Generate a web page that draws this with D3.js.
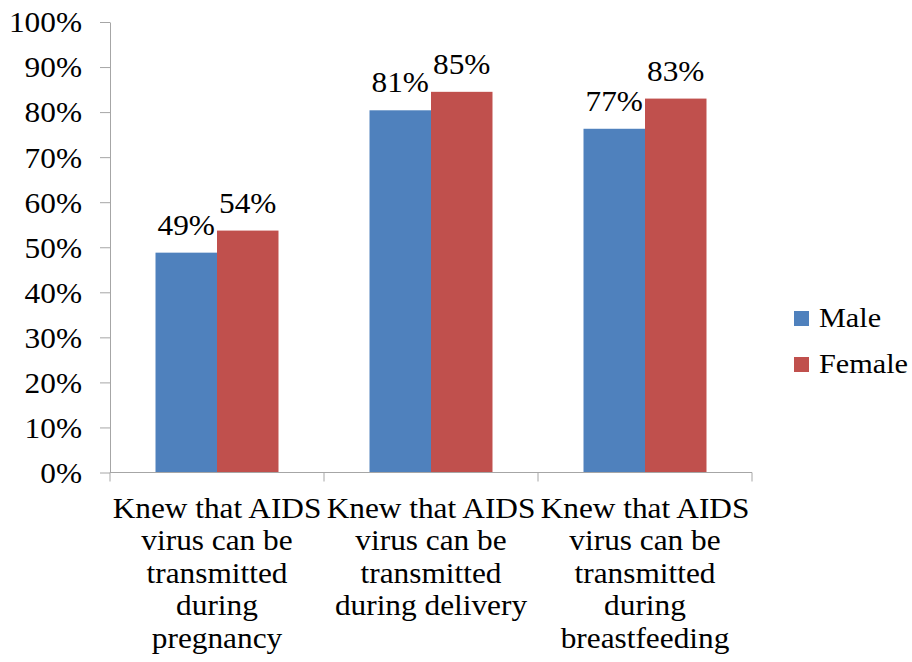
<!DOCTYPE html>
<html>
<head>
<meta charset="utf-8">
<script src="https://cdn.jsdelivr.net/npm/d3@7"></script>
<style>
  body { margin: 0; background: #fff; }
  svg text { font-family: "Liberation Serif", "Times New Roman", serif; fill: #000; }
</style>
</head>
<body>
<svg id="svg" width="912" height="662"></svg>
<script>
// chart data
const categories = [
    ["Knew that AIDS", "virus can be", "transmitted", "during", "pregnancy"],
    ["Knew that AIDS", "virus can be", "transmitted", "during delivery"],
    ["Knew that AIDS", "virus can be", "transmitted", "during", "breastfeeding"]
];
const seriesNames = ["Male", "Female"];
const maleValues = [49, 81, 77];
const femaleValues = [54, 85, 83];
const barHeights = [[48.8, 53.7], [80.4, 84.5], [76.3, 83.0]];
const yTicks = [0, 10, 20, 30, 40, 50, 60, 70, 80, 90, 100];
const colors = ["#4f81bd", "#c0504d"];

draw();

function draw(
    {
        left = 110,
        right = 752,
        top = 22,
        bottom = 472.5,
        fontSize = 29,
        stretch = 1.08,   // the source text is a bit wider than the font
        axisColor = "#a6a6a6"
    } = {}
) {
    const svg = d3.select("#svg");
    const labels = [maleValues, femaleValues];

    const data = categories.map((c, i) => ({
        idx: i,
        bars: seriesNames.map((s, j) => ({ series: s, j, value: barHeights[i][j], label: labels[j][i] }))
    }));

    const x0 = d3.scaleBand().domain(d3.range(categories.length)).range([left, right]).padding(0);
    const x1 = d3.scaleBand().domain(seriesNames).range([0, x0.bandwidth()]).paddingInner(0).paddingOuter(0.74);
    const y = d3.scaleLinear([0, 100], [bottom, top]);

    // y axis
    const yAxis = svg.append("g")
        .attr("transform", `translate(${left},0)`)
        .call(d3.axisLeft(y).tickValues(yTicks).tickSize(10).tickSizeOuter(0).tickFormat(d => d + "%"));
    yAxis.select(".domain").attr("stroke", axisColor);
    yAxis.selectAll(".tick line").attr("stroke", axisColor);
    yAxis.selectAll(".tick text")
        .attr("x", -28 / stretch)
        .attr("dy", "0.34em")
        .attr("transform", `scale(${stretch},1)`)
        .attr("font-size", fontSize)
        .attr("fill", "#000");

    // bars
    const group = svg.append("g").selectAll("g")
        .data(data)
        .join("g")
        .attr("transform", d => `translate(${x0(d.idx)},0)`);

    group.selectAll("rect")
        .data(d => d.bars)
        .join("rect")
        .attr("x", d => x1(d.series))
        .attr("y", d => y(d.value))
        .attr("width", x1.bandwidth())
        .attr("height", d => y(0) - y(d.value))
        .attr("fill", d => colors[d.j]);

    group.selectAll("text.val")
        .data(d => d.bars)
        .join("text")
        .attr("class", "val")
        .attr("transform", d =>
            `translate(${x1(d.series) + x1.bandwidth() / 2},${y(d.value) - 18}) scale(${stretch},1)`)
        .attr("text-anchor", "middle")
        .attr("font-size", fontSize)
        .text(d => d.label + "%");

    // x axis (category boundaries)
    const xAxis = svg.append("g");
    xAxis.append("line")
        .attr("x1", left).attr("x2", right)
        .attr("y1", bottom).attr("y2", bottom)
        .attr("stroke", axisColor);
    xAxis.selectAll("line.tk")
        .data(d3.range(categories.length + 1))
        .join("line")
        .attr("class", "tk")
        .attr("x1", i => i < categories.length ? x0(i) : right)
        .attr("x2", i => i < categories.length ? x0(i) : right)
        .attr("y1", bottom).attr("y2", bottom + 9)
        .attr("stroke", axisColor);

    // category labels
    svg.append("g").selectAll("text")
        .data(data)
        .join("text")
        .attr("text-anchor", "middle")
        .attr("font-size", fontSize)
        .attr("transform", d => `translate(${x0(d.idx) + x0.bandwidth() / 2},518) scale(${stretch},1)`)
        .each(function(d) {
            d3.select(this).selectAll("tspan")
                .data(categories[d.idx])
                .join("tspan")
                .attr("x", 0)
                .attr("dy", (_, i) => i === 0 ? 0 : 32.5)
                .text(t => t);
        });

    // legend
    const legend = svg.append("g").attr("transform", "translate(794,311)");
    const item = legend.selectAll("g")
        .data(seriesNames)
        .join("g")
        .attr("transform", (_, i) => `translate(0,${i * 46})`);
    item.append("rect")
        .attr("width", 15).attr("height", 15)
        .attr("fill", (_, i) => colors[i]);
    item.append("text")
        .attr("transform", `translate(25,16) scale(${stretch},1)`)
        .attr("font-size", 28)
        .text(d => d);
}
</script>
</body>
</html>
